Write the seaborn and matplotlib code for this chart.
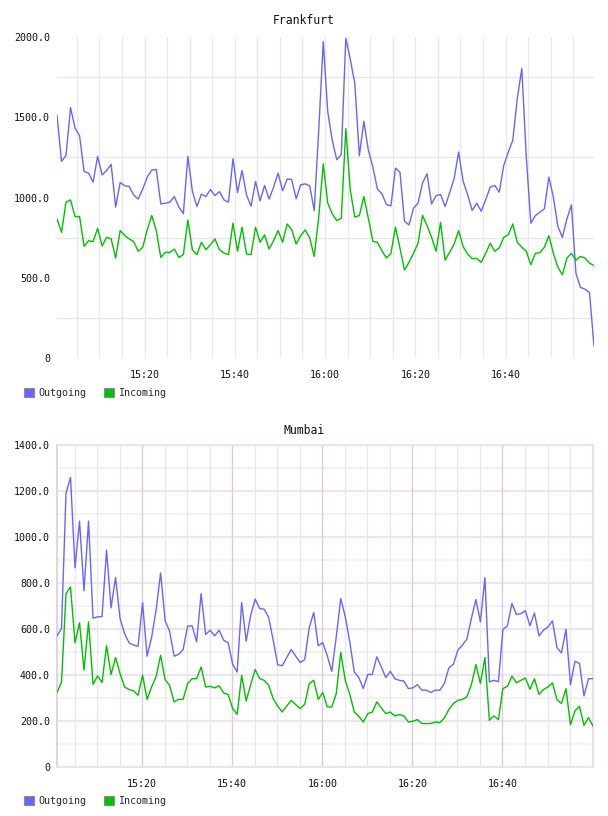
import numpy as np
import pandas as pd
import seaborn as sns
import matplotlib
matplotlib.use("Agg")
import matplotlib.pyplot as plt
import matplotlib.dates as mdates
from matplotlib.patches import Patch

# start time of each sampled series (1 sample per minute)
frankfurt_start = "2013-06-01 15:00:36"
mumbai_start = "2013-06-01 15:01:06"
tick_times = ["2013-06-01 15:20", "2013-06-01 15:40", "2013-06-01 16:00",
              "2013-06-01 16:20", "2013-06-01 16:40"]

frankfurt_out = [
    1512, 1225, 1262, 1560, 1433, 1385, 1162, 1152, 1096, 1256,
    1140, 1169, 1206, 940, 1094, 1073, 1069, 1015, 990, 1054,
    1127, 1171, 1175, 960, 965, 971, 1006, 940, 900, 1256,
    1040, 944, 1021, 1006, 1050, 1012, 1037, 985, 971, 1242,
    1031, 1169, 1015, 946, 1100, 979, 1075, 990, 1065, 1152,
    1042, 1115, 1112, 992, 1079, 1085, 1073, 919, 1420, 1971,
    1533, 1356, 1235, 1267, 1992, 1860, 1710, 1260, 1475, 1294,
    1190, 1052, 1023, 956, 948, 1183, 1158, 852, 829, 933,
    965, 1090, 1148, 960, 1012, 1019, 944, 1029, 1117, 1283,
    1102, 1017, 919, 965, 915, 985, 1065, 1075, 1033, 1200,
    1283, 1356, 1617, 1804, 1250, 840, 887, 908, 929, 1127,
    1002, 819, 752, 867, 954, 527, 440, 429, 408, 75,
]
frankfurt_in = [
    867, 783, 971, 985, 881, 881, 696, 731, 725, 808,
    698, 752, 742, 623, 794, 763, 742, 725, 665, 690,
    800, 888, 794, 627, 658, 658, 679, 627, 644, 860,
    673, 644, 721, 675, 706, 742, 675, 654, 644, 840,
    665, 815, 648, 644, 815, 721, 767, 679, 731, 794,
    721, 835, 800, 710, 763, 798, 748, 633, 877, 1210,
    965, 898, 856, 871, 1429, 1044, 877, 888, 1006, 870,
    727, 721, 669, 623, 652, 815, 685, 548, 596, 652,
    715, 888, 825, 752, 665, 846, 610, 658, 710, 794,
    694, 648, 619, 621, 596, 652, 715, 665, 686, 752,
    767, 835, 721, 690, 665, 581, 652, 656, 690, 762,
    652, 565, 519, 623, 652, 610, 633, 623, 592, 575,
]
mumbai_out = [
    570, 602, 1190, 1259, 866, 1069, 766, 1069, 647, 653,
    654, 943, 692, 824, 646, 580, 540, 530, 525, 714,
    482, 563, 682, 844, 637, 590, 482, 490, 511, 612,
    614, 544, 754, 576, 595, 570, 595, 551, 540, 447,
    413, 715, 547, 660, 730, 689, 686, 650, 551, 445,
    440, 476, 511, 482, 454, 467, 606, 672, 527, 541,
    484, 416, 566, 733, 653, 544, 413, 389, 341, 402,
    403, 479, 435, 389, 416, 384, 377, 374, 341, 344,
    358, 334, 334, 324, 334, 334, 363, 431, 447, 508,
    530, 556, 646, 728, 631, 823, 370, 377, 371, 598,
    614, 711, 663, 667, 679, 614, 670, 570, 595, 609,
    635, 519, 496, 599, 358, 460, 450, 309, 384, 384,
]
mumbai_in = [
    324, 368, 754, 783, 540, 627, 421, 631, 360, 396,
    367, 527, 402, 476, 406, 348, 337, 331, 312, 399,
    294, 348, 392, 486, 380, 355, 283, 294, 294, 363,
    384, 384, 435, 348, 351, 344, 353, 322, 315, 254,
    229, 399, 287, 358, 424, 384, 377, 355, 297, 265,
    239, 265, 290, 271, 254, 273, 363, 377, 294, 324,
    261, 261, 319, 498, 377, 316, 239, 220, 196, 232,
    239, 283, 257, 232, 239, 222, 228, 222, 196, 199,
    206, 189, 189, 189, 196, 193, 213, 250, 276, 290,
    294, 305, 358, 445, 363, 476, 203, 222, 206, 341,
    351, 395, 366, 377, 387, 338, 384, 316, 337, 348,
    366, 293, 276, 341, 184, 244, 264, 181, 215, 177,
]

series_names = ["Outgoing", "Incoming"]
series_colors = ["#6666ff", "#00c000"]
frankfurt_yticks = [0, 500, 1000, 1500, 2000]
mumbai_yticks = [0, 200, 400, 600, 800, 1000, 1200, 1400]

sns.set_style("white")
plt.rcParams["font.family"] = ["DejaVu Sans Mono", "DejaVu Sans"]

W, H = 608, 816
fig = plt.figure(figsize=(W / 100, H / 100), dpi=100)


def px_axes(left, top, right, bottom):
    return fig.add_axes([left / W, 1 - bottom / H, (right - left) / W, (bottom - top) / H])


def make_frame(start, out_vals, in_vals):
    t = pd.date_range(start, periods=len(out_vals), freq="1min")
    df = pd.DataFrame({"time": t, "Outgoing": out_vals, "Incoming": in_vals})
    return df.melt(id_vars="time", var_name="series", value_name="value")


def ylabel_fmt(v):
    return "0" if v == 0 else f"{v:.1f}"


def draw_panel(ax, df, yticks, title, title_y, legend_y, pink=False):
    sns.lineplot(data=df, x="time", y="value", hue="series", hue_order=series_names,
                 palette=series_colors, linewidth=1.0, ax=ax, legend=False, zorder=3)
    tmin, tmax = df["time"].min(), df["time"].max()
    ax.set_xlim(tmin, tmax)
    ax.set_ylim(yticks[0], yticks[-1])
    ax.set_xlabel("")
    ax.set_ylabel("")

    ax.set_yticks(yticks)
    ax.set_yticklabels([ylabel_fmt(v) for v in yticks])
    ax.set_xticks(pd.to_datetime(tick_times))
    ax.xaxis.set_major_formatter(mdates.DateFormatter("%H:%M"))
    ax.xaxis.set_minor_locator(mdates.MinuteLocator(byminute=range(0, 60, 5)))
    ax.tick_params(axis="both", which="both", length=0, labelsize=7.2, colors="#111111")
    ax.tick_params(axis="x", pad=8.5)
    ax.tick_params(axis="y", pad=5)

    ax.grid(False)
    step = yticks[1] - yticks[0]
    if not pink:
        ax.xaxis.grid(True, which="both", color="#e8e8e8", linewidth=0.9)
        for v in np.arange(yticks[0] + step / 2, yticks[-1], step):
            ax.axhline(v, color="#e6e6e6", linewidth=0.9, zorder=0)
        for s in ax.spines.values():
            s.set_visible(False)
    else:
        ax.xaxis.grid(True, which="minor", color="#ebe5eb", linewidth=0.9)
        ax.xaxis.grid(True, which="major", color="#dccbdc", linewidth=1.0)
        for v in np.arange(yticks[0], yticks[-1] + 1, step / 2):
            major = (v % step) == 0
            ax.axhline(v, color="#f0e3f0" if major else "#f3eff3",
                       linewidth=1.6 if major else 1.3, zorder=0)
        for s in ax.spines.values():
            s.set_color("#eddeed")
            s.set_linewidth(1.2)
        ax.spines["left"].set_color("#dfcbdf")
        ax.spines["right"].set_color("#e9d6e9")

    fig.text(0.5, 1 - title_y / H, title, ha="center", va="center", fontsize=8.3, color="#111111")

    handles = [Patch(facecolor=c, edgecolor="#8a8a8a", linewidth=0.8) for c in series_colors]
    ax.legend(handles, series_names, loc="upper left",
              bbox_to_anchor=(24 / W, 1 - legend_y / H), bbox_transform=fig.transFigure,
              ncol=2, frameon=False, fontsize=7.2, handlelength=1.0, handleheight=1.0,
              handletextpad=0.45, columnspacing=1.7, borderpad=0, borderaxespad=0)


ax_top = px_axes(57, 37, 594, 358)
draw_panel(ax_top, make_frame(frankfurt_start, frankfurt_out, frankfurt_in),
           frankfurt_yticks, "Frankfurt", 20, 388)

ax_bot = px_axes(57, 445, 593, 767)
draw_panel(ax_bot, make_frame(mumbai_start, mumbai_out, mumbai_in),
           mumbai_yticks, "Mumbai", 430, 796, pink=True)

fig.savefig("out.png", dpi=100)
